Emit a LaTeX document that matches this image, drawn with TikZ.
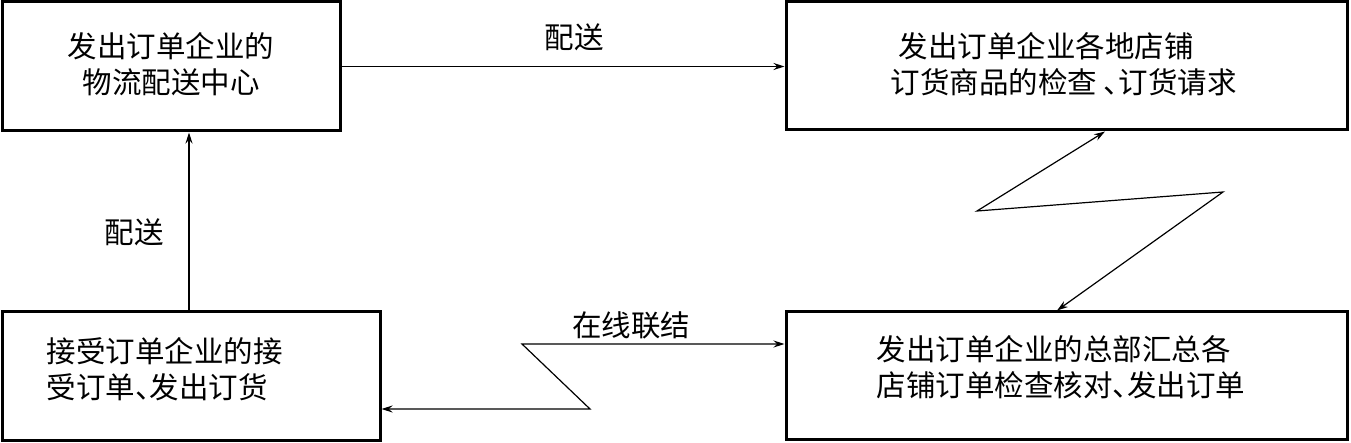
\documentclass[tikz,border=0pt]{standalone}
\usepackage{fontspec}
\newfontfamily\cjk{Noto Sans CJK SC}
\usetikzlibrary{arrows.meta}
\newcommand{\dunhao}{\makebox[0.5em][l]{、}}
\begin{document}
\begin{tikzpicture}[x=1pt,y=-1pt,
  box/.style={draw, line width=3pt, inner sep=0pt},
  txt/.style={inner sep=0pt, font=\cjk\fontsize{29.5}{36}\selectfont},
  lbl/.style={inner sep=0pt, font=\cjk\fontsize{29.5}{36}\selectfont},
  tip/.tip={Stealth[length=11pt,width=7pt]},
  arr/.style={line width=1.2pt, -tip},
  dbl/.style={line width=1.2pt, tip-tip}]
\useasboundingbox (0,0) rectangle (1351,443);
% boxes
\node[box, minimum width=338pt, minimum height=129pt] (A) at (171,66.5) {};
\node[box, minimum width=561pt, minimum height=128pt] (B) at (1066.5,66) {};
\node[box, minimum width=378pt, minimum height=128pt] (C) at (191,376) {};
\node[box, minimum width=561pt, minimum height=127pt] (D) at (1066.5,375.5) {};
% texts
\node[txt, align=center] (At) at ([yshift=2pt]A.center) {发出订单企业的\\物流配送中心};
\node[txt, align=left, anchor=west] (Bt) at ([xshift=106pt,yshift=2pt]B.west) {\hspace*{8pt}发出订单企业各地店铺\\订货商品的检查 \dunhao 订货请求};
\node[txt, align=left, anchor=west] (Ct) at ([xshift=46pt,yshift=6.5pt]C.west) {接受订单企业的接\\受订单\dunhao 发出订货};
\node[txt, align=left, anchor=west] (Dt) at ([xshift=92pt,yshift=8pt]D.west) {发出订单企业的总部汇总各\\店铺订单检查核对\dunhao 发出订单};
% connectors
\draw[arr] (A.east) -- node[lbl, pos=0.525, yshift=29pt] (l1) {配送} (A.east -| B.west);
\draw[arr] ([xshift=-2pt]C.north) -- node[lbl, pos=0.44, xshift=-55pt] (l2) {配送} ([xshift=-2pt]C.north |- A.south);
\coordinate (z1) at (977,211);
\coordinate (z2) at (1223,192);
\draw[dbl] ([xshift=38.5pt]B.south) -- (z1) -- (z2) -- ([xshift=-9.5pt]D.north);
\coordinate (w1) at (590,409);
\coordinate (w2) at (522,344);
\draw[dbl] ([yshift=-33pt]C.east) -- (w1) -- (w2) -- node[lbl, pos=0.417, yshift=19pt] (l3) {在线联结} ([yshift=31.5pt]D.west);
\end{tikzpicture}
\end{document}
